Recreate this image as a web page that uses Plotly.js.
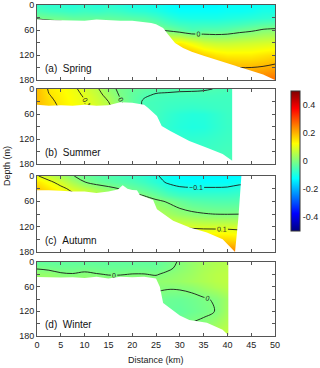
<!DOCTYPE html>
<html><head><meta charset="utf-8">
<script src="https://cdn.plot.ly/plotly-3.0.1.min.js"></script>
<style>html,body{margin:0;padding:0;background:#fff}#chart{width:320px;height:368px}</style>
</head><body><div id="chart"></div>
<script>
// depth levels (m) of the gridded sections
const depths = [0,15,30,45,60,90,120,150,180];

// ---- (a) Spring ----
const springX = [0,2.5,5,7.5,10,12.5,15,17.5,20,22.5,25,27.5,30,32.5,35,37.5,40,42.5,45,47.5,50];
const springZ = [
  [-0.07,-0.08,-0.08,-0.09,-0.08,-0.09,-0.08,-0.09,-0.10,-0.10,-0.11,-0.12,-0.13,-0.13,-0.13,-0.13,-0.12,-0.12,-0.12,-0.11,-0.11],
  [-0.05,-0.06,-0.065,-0.07,-0.065,-0.07,-0.065,-0.07,-0.08,-0.085,-0.095,-0.11,-0.12,-0.12,-0.12,-0.12,-0.115,-0.115,-0.11,-0.10,-0.10],
  [-0.008,-0.015,-0.02,-0.03,-0.03,-0.03,-0.03,-0.035,-0.04,-0.045,-0.06,-0.08,-0.095,-0.10,-0.10,-0.10,-0.095,-0.09,-0.085,-0.08,-0.075],
  [0.03,0.02,0.015,-0.002,-0.002,-0.002,-0.002,-0.005,-0.01,-0.015,-0.03,-0.05,-0.065,-0.07,-0.07,-0.07,-0.065,-0.06,-0.05,-0.04,-0.035],
  [0.05,0.045,0.04,0.03,0.03,0.03,0.03,0.025,0.02,0.01,0.005,-0.01,-0.03,-0.05,-0.04,-0.04,-0.035,-0.02,-0.01,0.005,0.01],
  [0.12,0.12,0.12,0.12,0.12,0.12,0.12,0.12,0.12,0.12,0.12,0.13,0.14,0.11,0.08,0.07,0.07,0.075,0.08,0.085,0.09],
  [0.18,0.18,0.18,0.18,0.18,0.18,0.18,0.18,0.19,0.19,0.20,0.22,0.22,0.20,0.17,0.15,0.14,0.14,0.14,0.15,0.16],
  [0.24,0.24,0.24,0.24,0.24,0.24,0.24,0.24,0.24,0.24,0.25,0.25,0.25,0.24,0.23,0.22,0.21,0.20,0.20,0.205,0.215],
  [0.28,0.28,0.28,0.28,0.28,0.28,0.28,0.28,0.28,0.28,0.28,0.28,0.28,0.28,0.27,0.26,0.25,0.25,0.25,0.26,0.27]
];
const springBotX = [0,2.5,5,7.5,10,12.5,15,17.5,20,22.5,24,25,26.5,27.5,29,30.7,32.5,35,37.8,40,42.5,44.7,47.5,50];
const springBotD = [34,36,37,38,38,35,37,38,38,40,43,46,55,70,91,103,112,122,132,140,148,156,167,180];

// ---- (b) Summer ----
const summerX = [0,2.5,5,7.5,10,12.5,15,17.5,20,22.5,25,27.5,30,32.5,35,37.5,40,42.5];
const summerZ = [
  [0.19,0.145,0.13,0.11,0.085,0.058,0.018,-0.01,-0.025,-0.035,-0.04,-0.042,-0.044,-0.045,-0.047,-0.051,-0.055,-0.055],
  [0.19,0.152,0.135,0.115,0.095,0.068,0.035,-0.005,-0.03,-0.045,-0.054,-0.056,-0.058,-0.058,-0.058,-0.06,-0.062,-0.062],
  [0.19,0.16,0.14,0.12,0.103,0.078,0.05,0.005,-0.03,-0.055,-0.06,-0.064,-0.066,-0.067,-0.066,-0.065,-0.064,-0.064],
  [0.19,0.165,0.145,0.125,0.11,0.085,0.06,0.015,-0.025,-0.055,-0.06,-0.068,-0.072,-0.075,-0.072,-0.068,-0.065,-0.065],
  [0.19,0.165,0.145,0.125,0.11,0.085,0.06,0.015,-0.025,-0.055,-0.062,-0.075,-0.085,-0.09,-0.088,-0.078,-0.068,-0.068],
  [0.19,0.165,0.145,0.125,0.11,0.085,0.06,0.015,-0.025,-0.055,-0.065,-0.08,-0.09,-0.095,-0.092,-0.08,-0.07,-0.07],
  [0.19,0.165,0.145,0.125,0.11,0.085,0.06,0.015,-0.025,-0.055,-0.062,-0.07,-0.075,-0.078,-0.075,-0.07,-0.065,-0.065],
  [0.19,0.165,0.145,0.125,0.11,0.085,0.06,0.015,-0.025,-0.05,-0.055,-0.06,-0.063,-0.065,-0.065,-0.062,-0.058,-0.058],
  [0.19,0.165,0.145,0.125,0.11,0.085,0.06,0.015,-0.025,-0.05,-0.05,-0.055,-0.058,-0.058,-0.058,-0.055,-0.052,-0.052]
];
const summerBotX = [0,2.5,5,7.5,10,12.5,15,17.5,20,22.5,23.3,25.2,26.2,28,30,32,35.7,39,40.5,41,41];
const summerBotD = [38,40,39,40,38,40,39,32,33,38,45,65,89,101,113,125,141,156,168,172,-10];

// ---- (c) Autumn ----
const autumnX = [0,2.5,5,7.5,10,12.5,15,17.5,20,22.5,25,27.5,30,32.5,35,37.5,40,42.5,45];
const autumnZ = [
  [0.105,0.07,0.04,0.003,-0.02,-0.035,-0.045,-0.055,-0.065,-0.08,-0.095,-0.115,-0.125,-0.13,-0.13,-0.13,-0.13,-0.13,-0.13],
  [0.15,0.115,0.08,0.04,0.002,-0.02,-0.03,-0.04,-0.05,-0.065,-0.085,-0.105,-0.115,-0.12,-0.12,-0.12,-0.12,-0.11,-0.11],
  [0.18,0.15,0.115,0.085,0.06,0.035,0.015,-0.002,-0.02,-0.035,-0.055,-0.08,-0.093,-0.095,-0.095,-0.095,-0.093,-0.085,-0.085],
  [0.2,0.17,0.14,0.11,0.085,0.065,0.045,0.025,0.01,-0.003,-0.025,-0.05,-0.065,-0.07,-0.07,-0.07,-0.07,-0.065,-0.065],
  [0.2,0.18,0.15,0.12,0.1,0.08,0.06,0.045,0.03,0.02,0.01,-0.005,-0.025,-0.04,-0.045,-0.048,-0.048,-0.045,-0.045],
  [0.2,0.19,0.17,0.15,0.13,0.11,0.09,0.08,0.07,0.06,0.05,0.035,0.02,0.01,0.003,-0.001,-0.002,-0.001,-0.001],
  [0.2,0.2,0.19,0.18,0.17,0.16,0.15,0.14,0.13,0.12,0.11,0.098,0.095,0.09,0.085,0.085,0.085,0.083,0.083],
  [0.22,0.22,0.22,0.22,0.21,0.2,0.2,0.19,0.18,0.17,0.165,0.16,0.16,0.165,0.17,0.165,0.16,0.15,0.15],
  [0.25,0.25,0.25,0.25,0.25,0.25,0.24,0.24,0.23,0.23,0.22,0.22,0.22,0.23,0.24,0.245,0.25,0.25,0.25]
];
const autumnBotX = [0,2.5,5,7.5,10,12.5,15,17,18,19,20,21,21.6,24.4,25.2,28.6,32.1,35.7,39,41.6,42.3,43];
const autumnBotD = [33,34,35,37,37,40,37,32,22,30,33,34,45,57,79,106,122,134,150,180,100,-10];

// ---- (d) Winter ----
const winterX = [0,2.5,5,7.5,10,12.5,15,17.5,20,22.5,25,27.5,30,32.5,35,37.5,40,42.5];
const winterZ = [
  [-0.03,-0.03,-0.03,-0.03,-0.03,-0.03,-0.03,-0.03,-0.03,-0.03,-0.03,-0.015,0.005,0.02,0.035,0.045,0.05,0.05],
  [-0.003,-0.01,-0.015,-0.017,-0.013,-0.017,-0.02,-0.02,-0.018,-0.018,-0.02,-0.008,0.01,0.025,0.04,0.05,0.055,0.055],
  [0.02,0.02,0.0055,0.0026,0.0087,0.0026,-0.002,-0.002,0.0013,0.0013,-0.003,0.009,0.02,0.03,0.045,0.055,0.06,0.06],
  [0.03,0.03,0.025,0.025,0.025,0.025,0.015,0.015,0.02,0.02,0.015,0.02,0.025,0.035,0.045,0.055,0.06,0.06],
  [0.035,0.035,0.035,0.035,0.035,0.035,0.035,0.035,0.035,0.03,0.01,0.006,0.008,0.015,0.03,0.045,0.055,0.055],
  [0.03,0.03,0.03,0.03,0.03,0.03,0.03,0.03,0.03,0.02,-0.01,-0.02,-0.022,-0.015,-0.005,0.005,0.03,0.03],
  [0.03,0.03,0.03,0.03,0.03,0.03,0.03,0.03,0.03,0.02,-0.015,-0.025,-0.028,-0.02,-0.01,0.001,0.035,0.035],
  [0.03,0.03,0.03,0.03,0.03,0.03,0.03,0.03,0.03,0.02,-0.005,-0.015,-0.01,0.002,0.01,0.03,0.05,0.05],
  [0.03,0.03,0.03,0.03,0.03,0.03,0.03,0.03,0.03,0.03,0.02,0.025,0.03,0.04,0.05,0.06,0.07,0.07]
];
const winterBotX = [0,2.5,5,7.5,10,12.5,15,17.5,20,22.5,25,25.8,26.5,28.6,30,32,35.7,39,40.1,40.2,40.2];
const winterBotD = [36,37,38,37,39,36,40,36,37,36,40,60,100,119,130,141,148,165,178,178,-10];

const panelLabels = ['(a)\u00a0\u00a0Spring','(b)\u00a0\u00a0Summer','(c)\u00a0\u00a0Autumn','(d)\u00a0\u00a0Winter'];
const xTicks = [0,5,10,15,20,25,30,35,40,45,50];
const yTickVals = [0,30,60,90,120,150,180];
const yTickText = ['0','','60','','120','','180'];
const cbTickVals = [-0.4,-0.2,0,0.2,0.4];
const cbTickText = ['-0.4','-0.2','0','0.2','0.4'];

const jet = [[0,'rgb(0,0,128)'],[0.125,'rgb(0,0,255)'],[0.375,'rgb(0,255,255)'],
             [0.625,'rgb(255,255,0)'],[0.875,'rgb(255,0,0)'],[1,'rgb(128,0,0)']];

const panels = [
  {x: springX, z: springZ, bx: springBotX, bd: springBotD, lv: {start:0, end:0.201, size:0.2}},
  {x: summerX, z: summerZ, bx: summerBotX, bd: summerBotD, lv: {start:-0.05, end:0.151, size:0.05}},
  {x: autumnX, z: autumnZ, bx: autumnBotX, bd: autumnBotD, lv: {start:-0.1, end:0.101, size:0.1}},
  {x: winterX, z: winterZ, bx: winterBotX, bd: winterBotD, lv: {start:0, end:0.01, size:1}}
];

// panel pixel extents (top, bottom)
const W = 320, H = 368;
const pxTop = [5, 89, 176, 262], pxBot = [80, 164, 252, 336];
const xDom = [37/W, 275/W];
const font = 'Liberation Sans, Arial, sans-serif';

const traces = [];
const layout = {
  width: W, height: H, autosize: false,
  margin: {l:0, r:0, t:0, b:0},
  paper_bgcolor: '#fff', plot_bgcolor: '#fff',
  showlegend: false,
  font: {family: font, size: 9, color: '#222'},
  annotations: []
};

panels.forEach((p, i) => {
  const n = i === 0 ? '' : String(i + 1);
  const xa = 'x' + n, ya = 'y' + n;
  traces.push({
    type: 'heatmap', x: p.x, y: depths, z: p.z, xaxis: xa, yaxis: ya,
    zsmooth: 'best', colorscale: jet, zmin: -0.5, zmax: 0.5, hoverinfo: 'skip',
    showscale: i === 0,
    colorbar: {
      x: 291/W, xanchor: 'left', y: 1 - 161/H, yanchor: 'middle',
      len: 140/H, lenmode: 'fraction', thickness: 9, thicknessmode: 'pixels',
      xpad: 0, ypad: 0, outlinewidth: 1, outlinecolor: '#333',
      tickmode: 'array', tickvals: cbTickVals, ticktext: cbTickText, ticks: '',
      tickfont: {size: 9, color: '#222', family: font}
    }
  });
  traces.push({
    type: 'contour', x: p.x, y: depths, z: p.z, xaxis: xa, yaxis: ya,
    autocontour: false,
    contours: {start: p.lv.start, end: p.lv.end, size: p.lv.size, coloring: 'none',
               showlabels: true, labelfont: {size: 7, color: '#222', family: font}},
    line: {color: '#1a1a1a', width: 0.9, smoothing: 1},
    showscale: false, hoverinfo: 'skip'
  });
  // white mask: below sea floor and beyond end of the section
  traces.push({
    type: 'scatter', mode: 'lines', xaxis: xa, yaxis: ya,
    x: [-5].concat(p.bx, [60, 60, -5]),
    y: [p.bd[0]].concat(p.bd, [-10, 200, 200]),
    fill: 'toself', fillcolor: '#ffffff', line: {width: 0, color: 'rgba(0,0,0,0)'},
    hoverinfo: 'skip'
  });
  const axLine = {showline: true, linecolor: '#555', linewidth: 1, mirror: 'ticks',
                  ticks: 'inside', ticklen: 3, tickcolor: '#555', zeroline: false, showgrid: false};
  layout['xaxis' + n] = Object.assign({}, axLine, {
    domain: xDom, range: [0, 50], anchor: ya, tickmode: 'array', tickvals: xTicks,
    showticklabels: i === 3, tickfont: {size: 9, color: '#222', family: font}
  });
  layout['yaxis' + n] = Object.assign({}, axLine, {
    domain: [1 - pxBot[i]/H, 1 - pxTop[i]/H], range: [180, 0], anchor: xa,
    tickmode: 'array', tickvals: yTickVals, ticktext: yTickText,
    tickfont: {size: 9, color: '#222', family: font}
  });
  layout.annotations.push({
    xref: xa, yref: ya, x: 1.2, y: 152, xanchor: 'left', yanchor: 'middle',
    text: panelLabels[i], showarrow: false, font: {size: 10, color: '#111', family: font}
  });
});

layout.annotations.push({
  xref: 'paper', yref: 'paper', x: 7/W, y: 1 - 166/H, textangle: -90,
  xanchor: 'center', yanchor: 'middle',
  text: 'Depth (m)', showarrow: false, font: {size: 9, color: '#222', family: font}
});
layout.annotations.push({
  xref: 'paper', yref: 'paper', x: 156/W, y: 1 - 360/H,
  xanchor: 'center', yanchor: 'middle',
  text: 'Distance (km)', showarrow: false, font: {size: 9, color: '#222', family: font}
});

Plotly.newPlot('chart', traces, layout, {staticPlot: true, displayModeBar: false});
</script>
</body></html>
